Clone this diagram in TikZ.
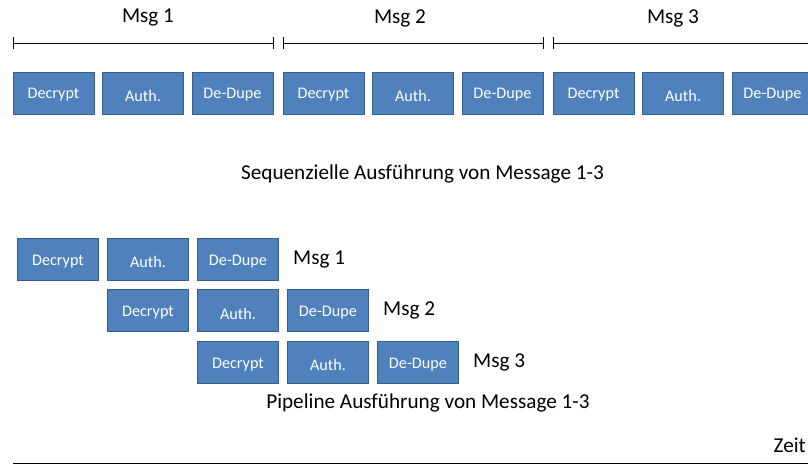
\documentclass[tikz,border=0pt]{standalone}
\usepackage{fontspec}
\setmainfont{Carlito}
\usetikzlibrary{positioning,arrows.meta}

\definecolor{stepfill}{RGB}{79,129,189}
\definecolor{stepline}{RGB}{56,93,138}

\tikzset{
  stage/.style={draw=stepline, fill=stepfill, line width=0.9pt, text=white,
    minimum width=81pt, minimum height=42pt, inner sep=0pt,
    text height=12pt, text depth=0pt,
    font=\fontsize{16.2}{18}\selectfont},
  authstage/.style={stage, text height=16.5pt},
  lbl/.style={font=\fontsize{21.2}{24}\selectfont, inner sep=0pt},
  span/.style={line width=0.8pt, {Bar[width=12pt]}-{Bar[width=12pt]}}
}

\begin{document}
\begin{tikzpicture}[x=1pt, y=-1pt]
    \useasboundingbox (0,0) rectangle (808,465);

    % Sequential: three messages one after another
    \foreach \m in {1,2,3} {
        \pgfmathsetmacro{\xo}{53.5+270*(\m-1)}
        \node[stage] (sd\m) at (\xo,93) {Decrypt};
        \node[authstage] (sa\m) at (\xo+89.5,93) {Auth.};
        \node[stage] (sx\m) at (\xo+179,93) {De-Dupe};
    }
    \draw[span] (sd1.west |- 0,43) -- (sx1.east |- 0,43);
    \draw[span] (sd2.west |- 0,43) -- (sx2.east |- 0,43);
    \coordinate (open) at (815,43);
    \draw[line width=0.8pt, {Bar[width=12pt,line width=1.6pt]}-] (sd3.west |- 0,43) -- (open);
    \node[lbl] (m1) at (148,18) {Msg 1};
    \node[lbl] (m2) at (400,18) {Msg 2};
    \node[lbl] (m3) at (673,18) {Msg 3};

    \node[lbl] (seq) at (422.5,174) {Sequenzielle Ausführung von Message 1-3};

    % Pipeline: each message starts one stage later
    \foreach \r in {0,1,2} {
        \pgfmathsetmacro{\xo}{58+90*\r}
        \pgfmathsetmacro{\yo}{259+51.75*\r}
        \node[stage] (pd\r) at (\xo,\yo) {Decrypt};
        \node[authstage] (pa\r) at (\xo+90,\yo) {Auth.};
        \node[stage] (px\r) at (\xo+180,\yo) {De-Dupe};
        \pgfmathtruncatemacro{\n}{\r+1}
        \node[lbl, right=14pt of px\r] (pm\r) {Msg \n};
    }

    \node[lbl] (pipe) at (428,403) {Pipeline Ausführung von Message 1-3};

    % time axis
    \node[lbl, anchor=east] (zeit) at (806,445) {Zeit};
    \coordinate (t0) at (13,463.5);
    \coordinate (t1) at (808,463.5);
    \draw[line width=1.5pt] (t0) -- (t1);
\end{tikzpicture}
\end{document}
